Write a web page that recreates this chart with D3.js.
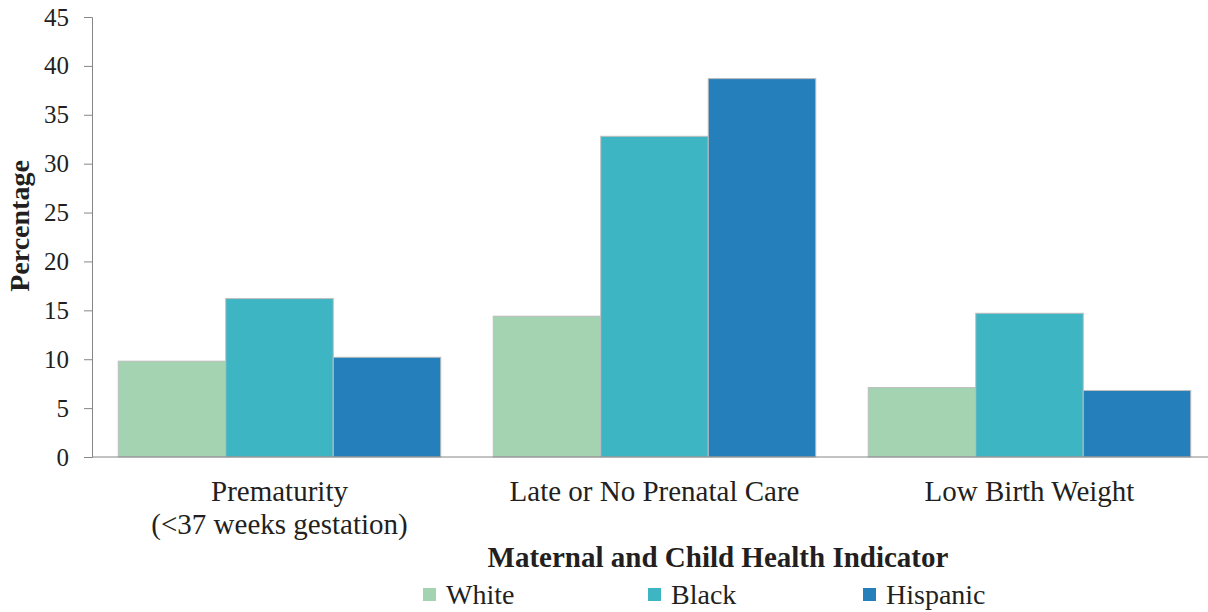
<!DOCTYPE html>
<html>
<head>
<meta charset="utf-8">
<script src="https://cdn.jsdelivr.net/npm/d3@7"></script>
<style>
  body { margin: 0; background: #fff; }
  svg text { font-family: "Liberation Serif", "Times New Roman", serif; fill: #231f20; }
  .axis path, .axis line { stroke: #868686; }
</style>
</head>
<body>
<svg width="1208" height="612"></svg>
<script>
// data
var categories = ["Prematurity|(<37 weeks gestation)", "Late or No Prenatal Care", "Low Birth Weight"];
var series = ["White", "Black", "Hispanic"];
var white = [9.8, 14.4, 7.1];
var black = [16.2, 32.8, 14.7];
var hispanic = [10.2, 38.7, 6.8];
var yTicks = [0, 5, 10, 15, 20, 25, 30, 35, 40, 45];

var colors = ["#a3d3b1", "#3db5c3", "#247fbb"];
var values = [white, black, hispanic];

var svg = d3.select("svg");

var x = d3.scaleBand().domain(categories).range([92, 1217]).paddingInner(0.14).paddingOuter(0.07);
var xs = d3.scaleBand().domain(series).range([0, x.bandwidth()]);
var y = d3.scaleLinear().domain([0, 45]).range([457, 17]);
var color = d3.scaleOrdinal().domain(series).range(colors);

// bars
var groups = svg.selectAll(".grp")
  .data(categories)
  .enter().append("g")
  .attr("class", "grp")
  .attr("transform", function(d) { return "translate(" + x(d) + ",0)"; });

groups.selectAll("rect")
  .data(function(d, i) {
    return series.map(function(s, j) { return {s: s, v: values[j][i]}; });
  })
  .enter().append("rect")
  .attr("x", function(d) { return xs(d.s); })
  .attr("y", function(d) { return y(d.v); })
  .attr("width", xs.bandwidth())
  .attr("height", function(d) { return y(0) - y(d.v); })
  .attr("fill", function(d) { return color(d.s); })
  .attr("stroke", "#bdbdbd")
  .attr("stroke-width", 1);

// y axis
svg.append("g")
  .attr("class", "axis")
  .attr("transform", "translate(92,0)")
  .call(d3.axisLeft(y).tickValues(yTicks).tickSize(8).tickPadding(15))
  .call(function(g) {
    g.selectAll("text").style("font-size", "25px").attr("fill", "#231f20");
  });

// x axis line
svg.append("line")
  .attr("x1", 92).attr("x2", 1217)
  .attr("y1", y(0)).attr("y2", y(0))
  .attr("stroke", "#868686");

// category labels
svg.selectAll(".cat")
  .data(categories)
  .enter().append("text")
  .attr("class", "cat")
  .attr("text-anchor", "middle")
  .style("font-size", "29px")
  .each(function(d) {
    var t = d3.select(this);
    d.split("|").forEach(function(line, k) {
      t.append("tspan")
        .attr("x", x(d) + x.bandwidth() / 2)
        .attr("y", 501 + k * 33)
        .text(line);
    });
  });

// axis titles
svg.append("text")
  .attr("text-anchor", "middle")
  .attr("x", 718).attr("y", 567)
  .style("font-size", "29px").style("font-weight", "bold")
  .text("Maternal and Child Health Indicator");

svg.append("text")
  .attr("text-anchor", "middle")
  .attr("transform", "translate(29,226) rotate(-90)")
  .style("font-size", "28px").style("font-weight", "bold")
  .text("Percentage");

// legend
var legX = [423, 648, 863];
var leg = svg.selectAll(".leg")
  .data(series)
  .enter().append("g")
  .attr("class", "leg")
  .attr("transform", function(d, i) { return "translate(" + legX[i] + ",588)"; });

leg.append("rect")
  .attr("width", 13).attr("height", 13)
  .attr("fill", function(d) { return color(d); });

leg.append("text")
  .attr("x", 23).attr("y", 16)
  .style("font-size", "28px")
  .text(function(d) { return d; });
</script>
</body>
</html>
